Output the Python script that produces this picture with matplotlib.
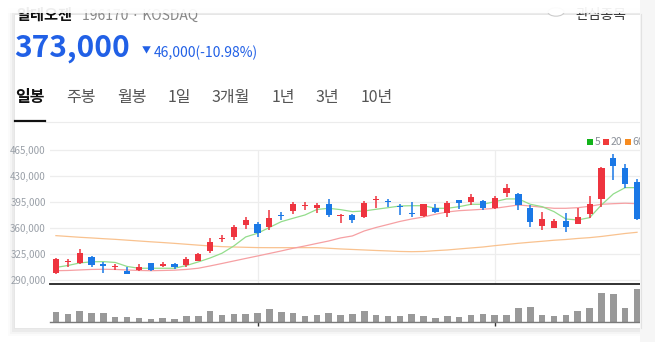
#!/usr/bin/python3
# -*- coding: utf-8 -*-
"""Daily candle chart of 알테오젠 (KOSDAQ) with 5/20/60 day moving averages."""
import matplotlib
matplotlib.use('Agg')
import matplotlib.pyplot as plt
from matplotlib.patches import Rectangle
from matplotlib.lines import Line2D

W, H = 655, 342

# OHLC (won)
opens = [300300, 315000, 312900, 321000, 312000, 308300, 302500, 303500, 313300, 309300,
         312000, 311000, 316400, 329100, 345800, 348700, 364100, 365400, 361400, 376800,
         383300, 390000, 387700, 392300, 376000, 377500, 375600, 397500, 396000, 389500,
         381000, 376600, 387700, 380200, 397700, 395400, 396800, 387700, 407100, 405800,
         386900, 363500, 360800, 370200, 365800, 379700, 399500, 454200, 440800, 422700]
highs = [320400, 319100, 332600, 322700, 314700, 312000, 307900, 312000, 313800, 314700,
         313300, 321800, 327200, 346600, 350600, 364100, 374800, 368500, 384600, 382000,
         395400, 395000, 393700, 399900, 379300, 379300, 396400, 403500, 399500, 392300,
         395400, 393000, 392300, 396400, 398100, 406200, 398100, 403500, 419200, 408000,
         391400, 381600, 372500, 380200, 386900, 403900, 442500, 460000, 446200, 426400]
lows = [298100, 307500, 312400, 308300, 300300, 303900, 298900, 302100, 303000, 307900,
        304800, 307500, 315600, 327200, 341600, 344300, 358700, 348300, 357700, 371200,
        379300, 385100, 381000, 375600, 366700, 366700, 373900, 386900, 389100, 377900,
        374800, 374800, 381000, 375600, 385600, 391000, 384600, 386000, 402600, 384200,
        361400, 357700, 360800, 354600, 365400, 373500, 389100, 425000, 413900, 371200]
closes = [318700, 315600, 326400, 310200, 309700, 308900, 298900, 307500, 303500, 312000,
          307900, 318700, 325400, 341600, 346600, 361400, 371200, 353300, 373500, 376000,
          392300, 390900, 391400, 378300, 377000, 371200, 394500, 398500, 395200, 388700,
          379300, 392300, 382400, 393700, 394000, 401700, 387300, 400400, 414700, 391400,
          368900, 372100, 369800, 361400, 375200, 392300, 440800, 444300, 419000, 373000]
volumes = [300000, 250000, 340000, 280000, 280000, 140000, 140000, 110000, 80000, 120000,
           80000, 190000, 170000, 320000, 200000, 250000, 230000, 260000, 380000, 310000,
           280000, 190000, 200000, 260000, 200000, 230000, 340000, 220000, 190000, 190000,
           250000, 190000, 120000, 170000, 140000, 220000, 250000, 200000, 220000, 410000,
           440000, 220000, 170000, 220000, 340000, 430000, 850000, 830000, 430000, 980000]

# moving averages as drawn on the chart
ma5 = [307300, 309900, 313300, 314900, 315100, 314000, 308600, 306200, 306200, 306200,
       306200, 309900, 314700, 320000, 326400, 336200, 348300, 353300, 361100, 368900,
       373500, 377900, 385300, 386900, 385100, 382400, 383300, 385600, 387700, 390000,
       390400, 390400, 386900, 386900, 389100, 392300, 392300, 395800, 399500, 399500,
       392300, 389100, 382400, 372500, 371200, 374300, 391400, 406200, 414700, 414700]
ma20 = [302900, 303200, 303900, 304600, 304800, 304600, 303900, 303200, 302900, 303200,
        303600, 304600, 306200, 309300, 312600, 316000, 319400, 322700, 326100, 329500,
        333100, 336200, 339600, 342900, 347000, 349700, 356400, 361100, 365100, 369200,
        372500, 375200, 378900, 382000, 383700, 384600, 385600, 386900, 389100, 391400,
        390000, 388300, 386900, 386900, 387700, 389600, 392300, 393100, 393700, 393100]
ma60 = [350100, 349000, 347900, 347000, 346000, 345100, 344000, 342900, 341800, 340800,
        339700, 338500, 337300, 336200, 335300, 334800, 334400, 334000, 333900, 333900,
        333900, 333900, 333900, 333100, 332200, 331500, 330800, 330100, 329500, 328800,
        328500, 328800, 329900, 330800, 332200, 333500, 334800, 336600, 338200, 339800,
        341200, 342500, 343900, 344900, 346300, 347400, 349000, 351000, 353000, 354600]

price_ticks = [290000, 325000, 360000, 395000, 430000, 465000]
month_starts = [17, 37]
ma_labels = ['5', '20', '60']
tabs = ['일봉', '주봉', '월봉', '1일', '3개월', '1년', '3년', '10년']

KR = ['Noto Sans CJK KR', 'DejaVu Sans']
UP = '#ee343f'
DOWN = '#1a78e6'
BLUE_TXT = '#2160e6'


def fx(x):
    return x / W


def fy(y):
    return 1 - y / H


def draw_card(fig):
    # soft shadow around the white card
    for k, a in [(6, 0.015), (4, 0.025), (2, 0.04)]:
        fig.patches.append(Rectangle((fx(14 - k), fy(328 + k + 2)), (626 + 2 * k) / W,
                                     (328 + 2 * k + 2 - 14) / H, transform=fig.transFigure,
                                     facecolor='black', alpha=a, edgecolor='none', zorder=-3))
    fig.patches.append(Rectangle((fx(14), fy(328)), 626 / W, (328 - 14) / H,
                                 transform=fig.transFigure, facecolor='white',
                                 edgecolor='#e4e4e4', lw=0.6, zorder=-2))


def draw_header(fig):
    fig.text(fx(16), fy(20), '알테오젠', family=KR, fontsize=11, weight='bold',
             color='#111111', va='baseline')
    fig.text(fx(82), fy(20), '196170 · KOSDAQ', family=KR, fontsize=10,
             color='#888888', va='baseline')
    fig.text(fx(575), fy(19), '관심종목', family=KR, fontsize=10, color='#333333',
             va='baseline')
    fig.patches.append(plt.Circle((fx(556), fy(12)), 8 / W, transform=fig.transFigure,
                                  facecolor='white', edgecolor='#cccccc', lw=0.8, zorder=2))
    # translucent bar hiding the top of the header (scrolled page)
    fig.patches.append(Rectangle((0, fy(13)), 1, 13 / H, transform=fig.transFigure,
                                 facecolor='white', alpha=0.93, edgecolor='none', zorder=5))

    fig.text(fx(14), fy(57), '373,000', family=KR, fontsize=21.5, weight='bold',
             color=BLUE_TXT, va='baseline')
    fig.text(fx(142), fy(53), '▼', family=KR, fontsize=6.5, color=BLUE_TXT, va='baseline')
    fig.text(fx(154), fy(57), '46,000(-10.98%)', family=KR, fontsize=10,
             color=BLUE_TXT, va='baseline')

    x = 15
    gaps = [51, 51, 51, 44, 60, 43, 46]
    for i, t in enumerate(tabs):
        fig.text(fx(x), fy(102), t, family=KR, fontsize=11.5,
                 weight='bold' if i == 0 else 'normal',
                 color='#111111' if i == 0 else '#555555', va='baseline')
        if i < len(gaps):
            x += gaps[i]
    fig.lines.append(Line2D([fx(45), fx(640)], [fy(121.5), fy(121.5)],
                            transform=fig.transFigure, color='#ececec', lw=0.8))
    fig.lines.append(Line2D([fx(15), fx(45)], [fy(121), fy(121)],
                            transform=fig.transFigure, color='#111111', lw=1.6))


def draw_price(fig):
    ax = fig.add_axes([fx(50), fy(284), 590 / W, 163 / H])
    ax.set_facecolor('none')
    n = len(closes)
    x = list(range(n))
    ax.set_xlim(-0.5, n - 0.75)
    ax.set_ylim(285000, 504400)

    ax.set_yticks(price_ticks)
    ax.set_yticklabels(['{:,}'.format(v) for v in price_ticks])
    ax.tick_params(axis='y', length=0, pad=3, labelsize=7, labelcolor='#9aa0a8')
    ax.tick_params(axis='x', length=0, labelbottom=False)
    for lab in ax.get_yticklabels():
        lab.set_family(KR)
    ax.yaxis.grid(True, color='#ededed', lw=0.9)
    ax.vlines(month_starts, 285000, 465000, color='#ededed', lw=0.9, zorder=0)
    for s in ['top', 'left', 'right']:
        ax.spines[s].set_visible(False)
    ax.spines['bottom'].set_color('#222222')
    ax.spines['bottom'].set_linewidth(1.3)

    ax.plot(x, ma60, color='#f9c28f', lw=0.9, zorder=2)
    ax.plot(x, ma20, color='#f6a0a3', lw=0.9, zorder=2)
    ax.plot(x, ma5, color='#93dd8c', lw=0.9, zorder=2)

    for i in x:
        o, h, l, c = opens[i], highs[i], lows[i], closes[i]
        col = UP if c >= o else DOWN
        ax.vlines(i, l, h, color=col, lw=1.1, zorder=3)
        ax.bar(i, max(abs(c - o), 1400), bottom=min(o, c), width=0.52,
               color=col, zorder=4)

    # legend squares at the top right
    colors = ['#12b31a', '#f03a3a', '#f78b1f']
    lx = [587, 603, 625]
    for k, lab in enumerate(ma_labels):
        fig.patches.append(Rectangle((fx(lx[k]), fy(144.5)), 5.5 / W, 5.5 / H,
                                     transform=fig.transFigure, facecolor=colors[k],
                                     edgecolor='none', zorder=3))
        fig.text(fx(lx[k] + 7.5), fy(145), lab, family=KR, fontsize=7.5,
                 color='#8a8f98', va='baseline')
    return ax


def draw_volume(fig):
    vax = fig.add_axes([fx(50), fy(322), 590 / W, 37 / H])
    vax.set_facecolor('none')
    n = len(volumes)
    vax.set_xlim(-0.5, n - 0.75)
    vax.set_ylim(0, 1100000)
    vax.bar(range(n), volumes, width=0.55, color='#999999')
    for s in ['top', 'left', 'right']:
        vax.spines[s].set_visible(False)
    vax.spines['bottom'].set_color('#7a7a7a')
    vax.spines['bottom'].set_linewidth(1.0)
    vax.set_yticks([])
    vax.set_xticks(month_starts)
    vax.set_xticklabels([])
    vax.tick_params(axis='x', length=3, width=1, color='#333333')
    return vax


def main():
    fig = plt.figure(figsize=(W / 100, H / 100), dpi=100)
    fig.patch.set_facecolor('white')
    draw_card(fig)
    draw_header(fig)
    draw_price(fig)
    draw_volume(fig)
    # right edge of the card clips the chart
    fig.patches.append(Rectangle((fx(640), 0), 15 / W, 1, transform=fig.transFigure,
                                 facecolor='#f6f6f6', edgecolor='none', zorder=6))
    fig.lines.append(Line2D([fx(640.5), fx(640.5)], [fy(328), fy(14)],
                            transform=fig.transFigure, color='#e2e2e2', lw=0.8, zorder=7))
    fig.savefig('out.png', dpi=100)


if __name__ == "__main__":
    main()
